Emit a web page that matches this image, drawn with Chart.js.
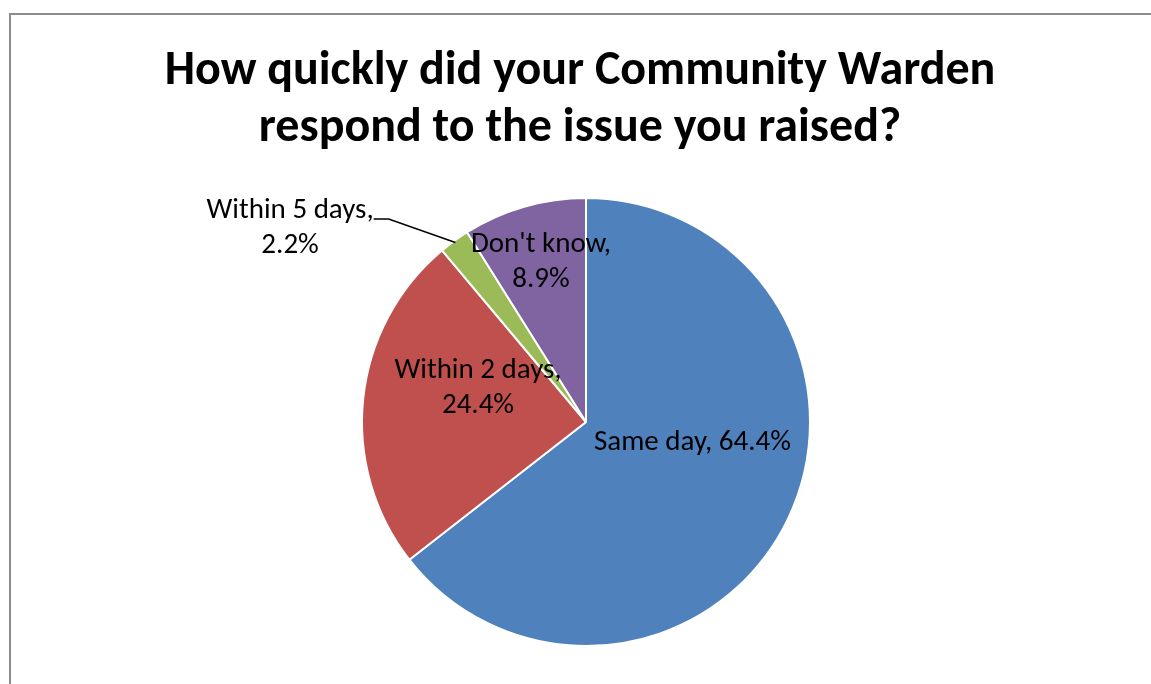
<!DOCTYPE html>
<html>
<head>
<meta charset="utf-8">
<script src="https://cdn.jsdelivr.net/npm/chart.js@4/dist/chart.umd.min.js"></script>
<style>
  html, body { margin: 0; padding: 0; background: #fff; overflow: hidden; }
  #wrap { position: relative; width: 1151px; height: 684px; }
  #frame { position: absolute; left: 9px; top: 13px; width: 1200px; height: 700px;
           border-left: 2px solid #8c8c8c; border-top: 2px solid #8c8c8c; }
  canvas { position: absolute; left: 0; top: 0; }
</style>
</head>
<body>
<div id="wrap">
  <div id="frame"></div>
  <canvas id="pieChart" width="1151" height="684"></canvas>
</div>
<script>
var titleLines = ['How quickly did your Community Warden', 'respond to the issue you raised?'];
var categories = ['Same day', 'Within 2 days', 'Within 5 days', "Don't know"];
var shares = [64.4, 24.4, 2.2, 8.9];
var shareLabels = ['64.4%', '24.4%', '2.2%', '8.9%'];
var sliceColors = ['#4F81BD', '#C0504D', '#9BBB59', '#8064A2'];

var fontFamily = "Carlito, Calibri, 'Open Sans', sans-serif";

// where each label block sits, in units of the pie radius from the centre
var labelSpots = [
    { dx: 0.475, dy: 0.094, lines: 1 },
    { dx: -0.482, dy: -0.152, lines: 2 },
    { dx: -1.321, dy: -0.866, lines: 2, leader: true },
    { dx: -0.201, dy: -0.712, lines: 2 }
];

var pieText = {
    id: 'pieText',
    afterDraw: function(chart) {
        var ctx = chart.ctx;
        ctx.save();
        ctx.fillStyle = '#000';
        ctx.textAlign = 'center';

        // title
        ctx.font = "bold 48px " + fontFamily;
        ctx.textBaseline = 'alphabetic';
        ctx.fillText(titleLines[0], 580, 84);
        ctx.fillText(titleLines[1], 580, 141);

        var arcs = chart.getDatasetMeta(0).data;
        ctx.font = "29px " + fontFamily;
        ctx.textBaseline = 'middle';
        arcs.forEach(function(arc, i) {
            var r = arc.outerRadius;
            var spot = labelSpots[i];
            var cx = arc.x + spot.dx * r;
            var cy = arc.y + spot.dy * r;
            if (spot.lines == 1) {
                ctx.fillText(categories[i] + ', ' + shareLabels[i], cx, cy);
            } else {
                ctx.fillText(categories[i] + ',', cx, cy - 17.5);
                ctx.fillText(shareLabels[i], cx, cy + 17.5);
            }
            if (spot.leader) {
                var mid = (arc.startAngle + arc.endAngle) / 2;
                var ex = arc.x + Math.cos(mid) * (r - 2);
                var ey = arc.y + Math.sin(mid) * (r - 2);
                var tw = ctx.measureText(categories[i] + ',').width;
                var tx = cx + tw / 2;
                var ly = cy - 17.5 + 8.5;
                ctx.strokeStyle = '#000';
                ctx.lineWidth = 1.5;
                ctx.beginPath();
                ctx.moveTo(ex, ey);
                ctx.lineTo(tx + 15, ly);
                ctx.lineTo(tx, ly);
                ctx.stroke();
            }
        });
        ctx.restore();
    }
};

var pieCtx = document.getElementById('pieChart').getContext('2d');
var pieChart = new Chart(pieCtx, {
    type: 'pie',
    data: {
        labels: categories,
        datasets: [{
            data: shares,
            backgroundColor: sliceColors,
            borderColor: '#fff',
            borderWidth: 2
        }]
    },
    options: {
        responsive: false,
        animation: false,
        layout: {
            padding: { top: 197, left: 361, right: 340, bottom: 37 }
        },
        plugins: {
            legend: { display: false },
            tooltip: { enabled: false }
        }
    },
    plugins: [pieText]
});
</script>
</body>
</html>
